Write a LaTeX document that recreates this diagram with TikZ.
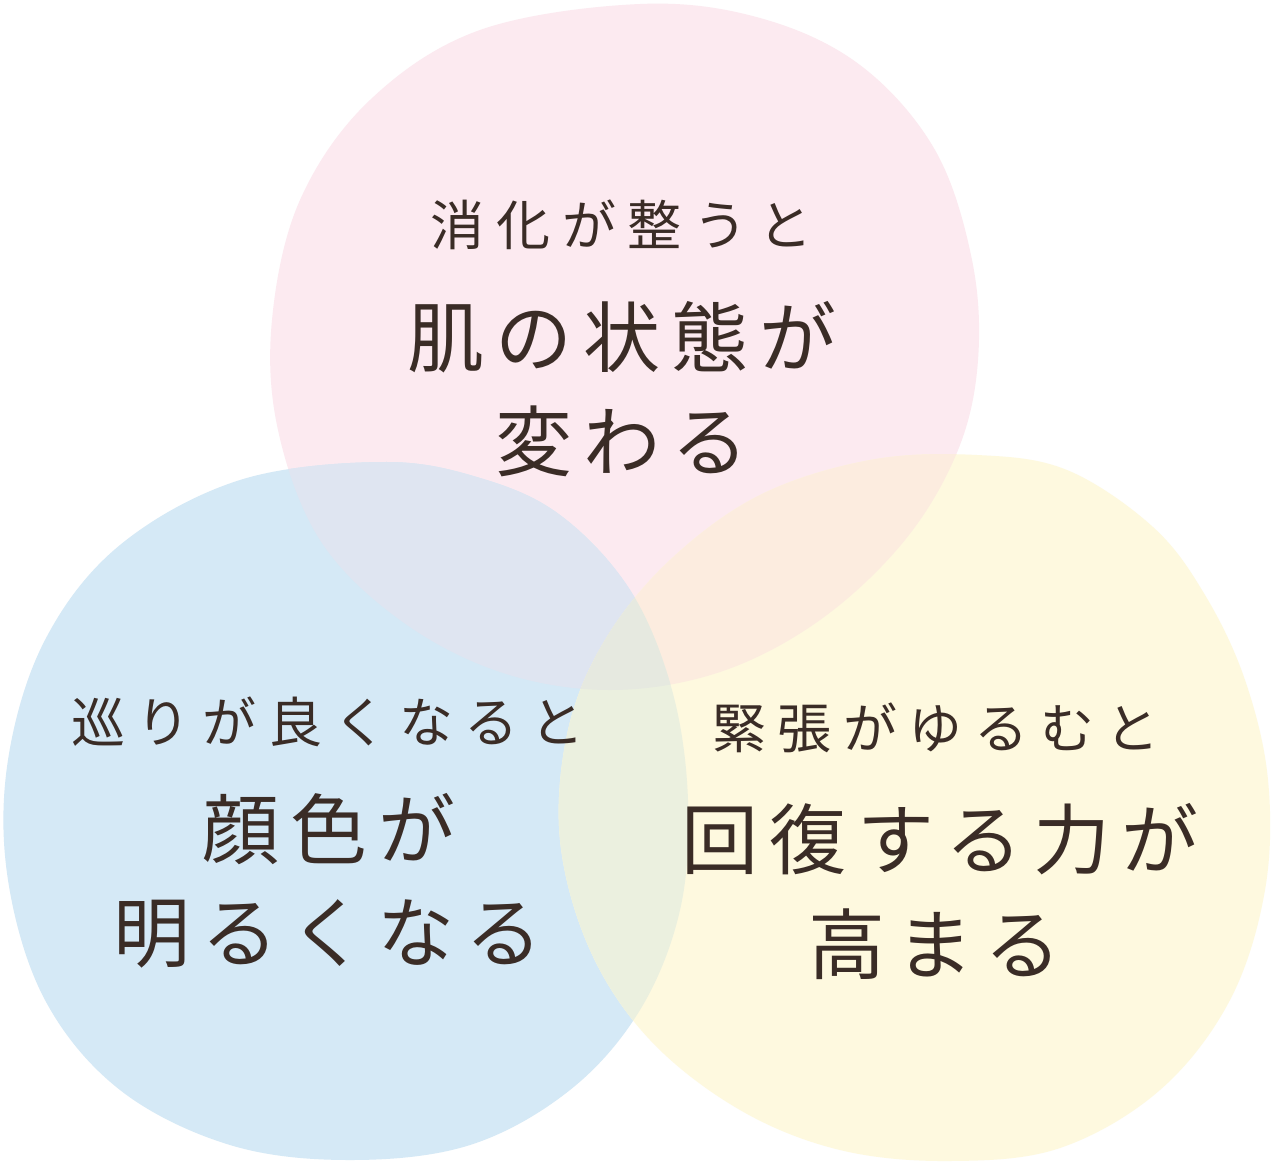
\documentclass[tikz,border=0pt]{standalone}
\usepackage{fontspec}
\newfontfamily\jpsmall[LetterSpace=21.5]{Noto Sans CJK JP}
\newfontfamily\jplarge[LetterSpace=14.5]{Noto Sans CJK JP}
\definecolor{pinkc}{HTML}{FCEAF0}
\definecolor{bluec}{HTML}{D5E9F6}
\definecolor{yellowc}{HTML}{FEF9DF}
\definecolor{pbc}{HTML}{DFE5F1}
\definecolor{pyc}{HTML}{FCECDF}
\definecolor{byc}{HTML}{EBF0DF}
\definecolor{pbyc}{HTML}{E6E9E0}
\definecolor{txt}{HTML}{3A2C26}
\newcommand\pinkblob[1]{\path[#1] plot[smooth cycle, tension=0.6] coordinates {
 (640,4) (760,18) (860,65) (935,150) (972,260) (978,360) (958,450) (905,540)
 (820,620) (720,672) (610,690) (500,672) (400,620) (320,540) (278,430)
 (272,320) (300,200) (370,100) (480,30)};}
\newcommand\blueblob[1]{\path[#1] plot[smooth cycle, tension=0.6] coordinates {
 (383,462) (480,478) (560,515) (630,590) (672,690) (688,800) (680,910)
 (640,1010) (570,1090) (470,1145) (350,1160) (230,1145) (120,1090) (45,1000)
 (8,880) (8,760) (45,640) (120,545) (240,480)};}
\newcommand\yellowblob[1]{\path[#1] plot[smooth cycle, tension=0.6] coordinates {
 (977,455) (1067,470) (1153,527) (1205,595) (1245,680) (1268,780) (1265,890)
 (1230,1000) (1160,1090) (1060,1148) (950,1161) (840,1150) (740,1110)
 (650,1040) (590,950) (560,840) (568,730) (605,640) (670,560) (760,495)
 (870,460)};}
\tikzset{
 small/.style={text=txt, inner sep=0pt, font=\jpsmall\fontsize{54}{54}\selectfont},
 large/.style={text=txt, inner sep=0pt, font=\jplarge\fontsize{77}{77}\selectfont},
}
\begin{document}
\begin{tikzpicture}[x=1pt,y=-1pt]
\fill[white] (0,0) rectangle (1274,1162);
\useasboundingbox (0,0) rectangle (1274,1162);
\pinkblob{fill=pinkc}
\blueblob{fill=bluec}
\yellowblob{fill=yellowc}
\begin{scope}\pinkblob{clip}\blueblob{fill=pbc}\end{scope}
\begin{scope}\pinkblob{clip}\yellowblob{fill=pyc}\end{scope}
\begin{scope}\blueblob{clip}\yellowblob{fill=byc}\end{scope}
\begin{scope}\pinkblob{clip}\blueblob{clip}\yellowblob{fill=pbyc}\end{scope}
\node[small] (t1a) at (622,225) {消化が整うと};
\node[large] (t1b) at (622,337) {肌の状態が};
\node[large] (t1c) at (622,441) {変わる};
\node[small] (t2a) at (328,722) {巡りが良くなると};
\node[large] (t2b) at (329,829) {顔色が};
\node[large] (t2c) at (328,934) {明るくなる};
\node[small] (t3a) at (936,728) {緊張がゆるむと};
\node[large] (t3b) at (940,839) {回復する力が};
\node[large] (t3c) at (935,944) {高まる};
\end{tikzpicture}
\end{document}
